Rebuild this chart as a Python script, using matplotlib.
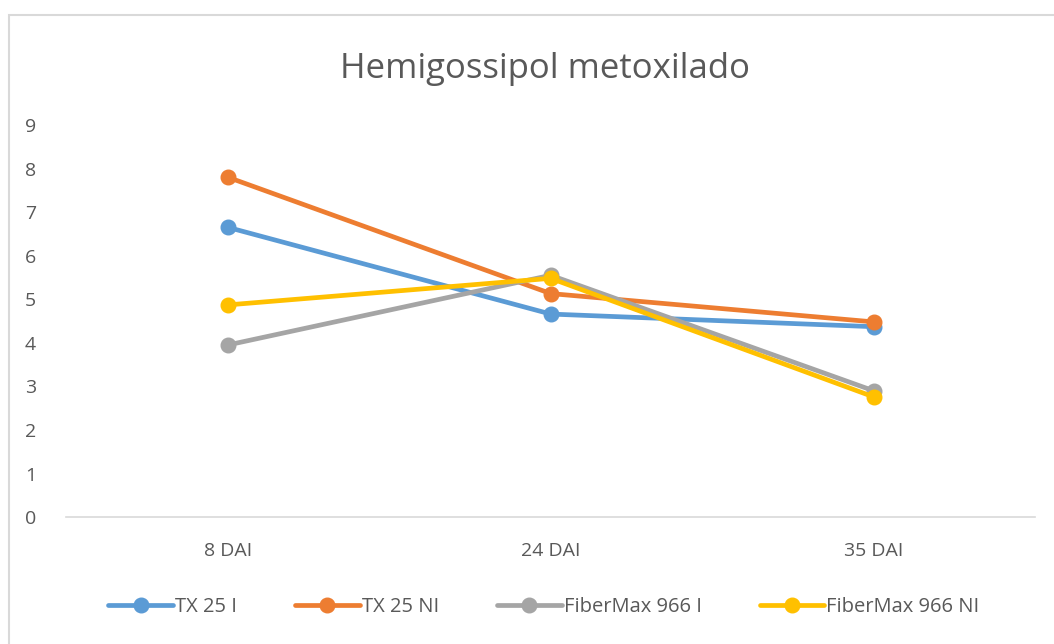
import matplotlib
matplotlib.use("Agg")
import matplotlib.pyplot as plt
from matplotlib.patches import Rectangle

categories = ["8 DAI", "24 DAI", "35 DAI"]
tx25_i = [6.65, 4.66, 4.37]
tx25_ni = [7.80, 5.13, 4.48]
fm966_i = [3.95, 5.55, 2.90]
fm966_ni = [4.87, 5.48, 2.76]

series_names = ["TX 25 I", "TX 25 NI", "FiberMax 966 I", "FiberMax 966 NI"]
series_colors = ["#5B9BD5", "#ED7D31", "#A5A5A5", "#FFC000"]
y_ticks = list(range(0, 10))

plt.rcParams['font.family'] = ['Open Sans', 'DejaVu Sans']
text_color = "#595959"

fig = plt.figure(figsize=(10.54, 6.44), dpi=100)
ax = fig.add_axes([0.063, 0.197, 0.919, 0.609])

# chart-area border (only top and left visible in the reference)
fig.patches.append(Rectangle((9 / 1054, -0.1), 1.2, 1 - 15 / 644 + 0.1,
                             transform=fig.transFigure, fill=False,
                             edgecolor="#D9D9D9", linewidth=1.5))

x = range(len(categories))
for vals, name, col in zip([tx25_i, tx25_ni, fm966_i, fm966_ni], series_names, series_colors):
    ax.plot(x, vals, color=col, linewidth=3.4, marker="o", markersize=10.5, label=name,
            solid_capstyle="round")

ax.set_xlim(-0.5, len(categories) - 0.5)
ax.set_ylim(0, 9)
ax.set_yticks(y_ticks)
ax.set_xticks(list(x))
ax.set_xticklabels(categories)
ax.tick_params(axis="both", length=0, labelsize=14, colors=text_color)
ax.tick_params(axis="x", pad=18)
ax.tick_params(axis="y", pad=22)
for s in ["top", "right", "left"]:
    ax.spines[s].set_visible(False)
ax.spines["bottom"].set_color("#D9D9D9")
ax.spines["bottom"].set_linewidth(1.2)

fig.text(0.517, 0.893, "Hemigossipol metoxilado", ha="center", va="center",
         fontsize=25, color=text_color)

leg = fig.legend(loc="center", bbox_to_anchor=(0.516, 0.057), ncol=4, frameon=False,
                 fontsize=14.5, handlelength=3.2, columnspacing=2.9, handletextpad=0.1)
for t in leg.get_texts():
    t.set_color(text_color)

fig.savefig("out.png", dpi=100, facecolor="white")
